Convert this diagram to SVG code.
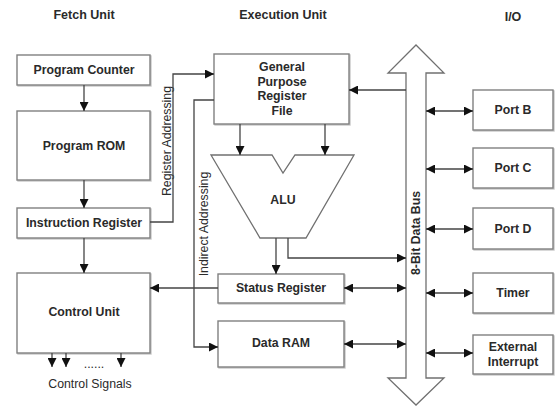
<svg xmlns="http://www.w3.org/2000/svg" width="558" height="406" viewBox="0 0 558 406">
<defs>
<marker id="ah" viewBox="0 0 10 10" refX="10" refY="5" markerWidth="9" markerHeight="9" markerUnits="userSpaceOnUse" orient="auto-start-reverse">
<path d="M0,0 L10,5 L0,10 Z" fill="#111"/>
</marker>
<style>
.box{fill:#fff;stroke:#808080;stroke-width:1.4;filter:drop-shadow(1px 1px 0 #c8c8c8)}
.t{font-family:"Liberation Sans",Arial,sans-serif;font-weight:bold;font-size:12.3px;fill:#2a2a2a;text-anchor:middle}
.h{font-size:12.5px}
.r{font-weight:normal}
.ln{fill:none;stroke:#555;stroke-width:1.3}
.a{fill:none;stroke:#444;stroke-width:1.3;marker-end:url(#ah)}
.b{fill:none;stroke:#444;stroke-width:1.3;marker-end:url(#ah);marker-start:url(#ah)}
</style>
</defs>
<rect width="558" height="406" fill="#fff"/>

<g id="headers">
<text class="t h" x="84" y="19">Fetch Unit</text>
<text class="t h" x="283" y="19">Execution Unit</text>
<text class="t h" x="513" y="21">I/O</text>
</g>

<g id="program-counter"><rect class="box" x="17" y="55" width="133" height="30"/><text class="t" x="84" y="74">Program Counter</text></g>
<g id="program-rom"><rect class="box" x="17" y="111" width="133" height="69"/><text class="t" x="84" y="150">Program ROM</text></g>
<g id="instruction-register"><rect class="box" x="17" y="208" width="133" height="30"/><text class="t" x="84" y="227" font-size="11.3px">Instruction Register</text></g>
<g id="control-unit"><rect class="box" x="17" y="273" width="133" height="80"/><text class="t" x="84" y="316">Control Unit</text></g>
<g id="control-signals">
<text class="t r" x="90" y="388" fill="#3a3f55">Control Signals</text>
<text class="t r" x="94" y="368" font-size="9px" fill="#5a6a9a">...... </text>
</g>

<g id="gprf"><rect class="box" x="214" y="54" width="135" height="70"/>
<text class="t" x="282" y="71">General</text>
<text class="t" x="282" y="86">Purpose</text>
<text class="t" x="282" y="100">Register</text>
<text class="t" x="282" y="115">File</text></g>

<g id="alu"><path d="M211,155 L272,155 L283,173 L295,155 L354,155 L306,238 L260,238 Z" fill="#fff" stroke="#707070" stroke-width="1.3"/><text class="t" x="283" y="204">ALU</text></g>

<g id="status-register"><rect class="box" x="218" y="274" width="126" height="29"/><text class="t" x="281" y="292">Status Register</text></g>
<g id="data-ram"><rect class="box" x="218" y="321" width="126" height="46"/><text class="t" x="281" y="347">Data RAM</text></g>

<g id="data-bus"><path d="M406,378 L406,73 L388,73 L416,45 L444,73 L426,73 L426,378 L444,378 L416,405 L388,378 Z" fill="#fff" stroke="#707070" stroke-width="1.3"/>
<text class="t" transform="translate(420,233) rotate(-90)" font-size="11.5px">8-Bit Data Bus</text></g>

<g id="port-b"><rect class="box" x="473" y="90" width="80" height="40"/><text class="t" x="513" y="114">Port B</text></g>
<g id="port-c"><rect class="box" x="473" y="148" width="80" height="40"/><text class="t" x="513" y="172">Port C</text></g>
<g id="port-d"><rect class="box" x="473" y="208" width="80" height="41"/><text class="t" x="513" y="233">Port D</text></g>
<g id="timer"><rect class="box" x="473" y="273" width="80" height="40"/><text class="t" x="513" y="297">Timer</text></g>
<g id="external-interrupt"><rect class="box" x="473" y="335" width="80" height="39"/><text class="t" x="513" y="351">External</text><text class="t" x="513" y="366">Interrupt</text></g>

<g id="labels">
<text class="t r" transform="translate(171,141) rotate(-90)" font-size="11.3px">Register Addressing</text>
<text class="t r" transform="translate(208,224) rotate(-90)" font-size="11.3px">Indirect Addressing</text>
</g>

<g id="connectors">
<line class="a" x1="84" y1="85" x2="84" y2="111"/>
<line class="a" x1="84" y1="180" x2="84" y2="208"/>
<line class="a" x1="84" y1="238" x2="84" y2="273"/>
<line class="a" x1="52" y1="353" x2="52" y2="367"/>
<line class="a" x1="66" y1="353" x2="66" y2="367"/>
<line class="a" x1="121" y1="353" x2="121" y2="367"/>
<path class="a" d="M150,222 L173,222 L173,74 L214,74"/>
<path class="a" d="M214,100 L194,100 L194,347 L218,347"/>
<line class="a" x1="240" y1="124" x2="240" y2="155"/>
<line class="a" x1="325" y1="124" x2="325" y2="155"/>
<line class="a" x1="406" y1="90" x2="349" y2="90"/>
<line class="a" x1="276" y1="238" x2="276" y2="274"/>
<path class="a" d="M288,238 L288,258 L406,258"/>
<line class="a" x1="218" y1="288" x2="150" y2="288"/>
<line class="b" x1="344" y1="288" x2="406" y2="288"/>
<line class="b" x1="344" y1="344" x2="406" y2="344"/>
<line class="b" x1="426" y1="111" x2="473" y2="111"/>
<line class="b" x1="426" y1="169" x2="473" y2="169"/>
<line class="b" x1="426" y1="229" x2="473" y2="229"/>
<line class="b" x1="426" y1="293" x2="473" y2="293"/>
<line class="b" x1="426" y1="353" x2="473" y2="353"/>
</g>
</svg>
